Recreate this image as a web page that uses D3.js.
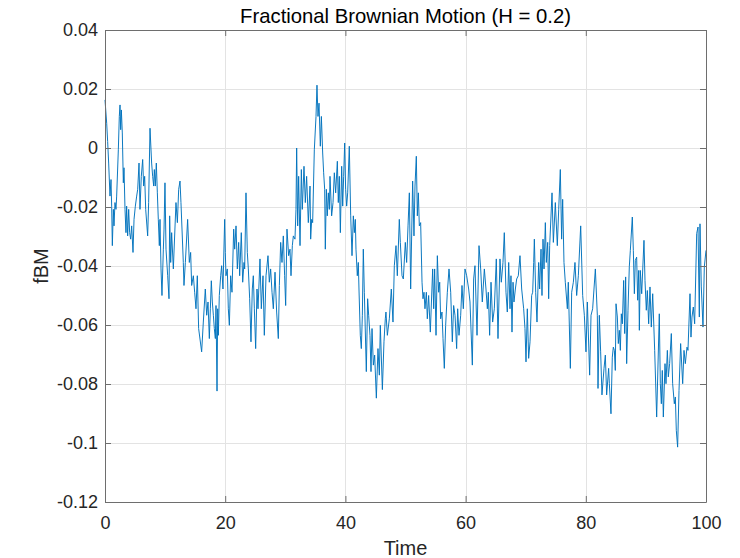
<!DOCTYPE html>
<html><head><meta charset="utf-8">
<script src="https://cdn.jsdelivr.net/npm/d3@7/dist/d3.min.js"></script>
<style>body{margin:0;background:#fff}svg{display:block;font-family:"Liberation Sans",Arial,Helvetica,sans-serif}</style>
</head><body><svg id="chart" width="740" height="558"></svg>
<script>
const time = [0,0.28,0.44,0.61,0.83,1.00,1.11,1.22,1.39,1.50,1.66,1.83,1.94,2.22,2.38,2.50,2.61,2.72,2.88,3.05,3.16,3.33,3.49,3.60,3.77,3.94,4.10,4.27,4.44,4.66,4.83,5.05,5.27,5.44,5.66,5.82,6.04,6.27,6.43,6.60,6.77,7.10,7.26,7.49,7.76,7.93,8.10,8.21,8.37,8.54,8.71,8.87,9.04,9.15,9.32,9.48,9.71,9.82,9.98,10.15,10.43,10.65,10.76,10.93,11.09,11.37,11.81,12.04,12.26,12.48,12.64,13.03,13.14,13.37,13.75,14.03,14.25,14.42,14.70,14.92,15.14,15.36,15.58,16.08,16.36,16.69,16.92,17.14,17.36,
17.53,17.69,17.86,18.03,18.19,18.36,18.47,18.64,18.75,18.86,19.02,19.25,19.41,19.63,19.91,20.02,20.13,20.35,20.52,20.69,20.91,21.13,21.41,21.58,21.80,22.02,22.24,22.41,22.68,22.91,23.13,23.24,23.46,23.68,23.85,24.07,24.29,24.51,24.68,24.85,25.07,25.29,25.46,25.79,26.01,26.29,26.51,26.79,27.12,27.34,27.56,27.79,28.01,28.29,28.56,28.84,29.01,29.23,29.45,29.67,29.89,30.06,30.28,30.56,30.78,30.95,31.17,31.34,31.61,31.78,31.89,32.06,32.22,32.45,32.67,32.83,33.11,33.33,33.55,33.83,34.11,
34.22,34.39,34.55,34.83,35.11,35.27,35.44,35.61,35.83,36.00,36.22,36.38,36.55,36.66,36.83,36.99,37.16,37.33,37.44,37.71,37.94,38.16,38.38,38.66,38.82,38.99,39.16,39.38,39.55,39.71,39.88,40.04,40.21,40.38,40.65,40.88,41.10,41.32,41.49,41.65,41.76,41.98,42.15,42.26,42.48,42.65,42.82,42.98,43.15,43.48,43.70,43.87,44.09,44.26,44.43,44.65,44.87,45.15,45.42,45.65,45.81,46.15,46.42,46.64,46.75,46.98,47.31,47.64,47.92,48.14,48.42,48.64,48.97,49.14,49.42,49.64,49.97,50.19,50.42,50.64,
50.86,51.19,51.41,51.58,51.80,51.97,52.14,52.30,52.52,52.75,52.91,53.08,53.24,53.47,53.63,53.85,54.13,54.52,54.69,54.85,55.08,55.30,55.52,55.69,55.85,56.07,56.24,56.46,56.68,56.96,57.24,57.52,57.79,58.01,58.24,58.51,58.68,58.90,59.18,59.40,59.62,59.90,60.18,60.51,60.73,61.12,61.34,61.56,61.90,62.23,62.51,62.78,63.12,63.39,63.62,63.78,64.00,64.23,64.50,64.78,65.11,65.39,65.72,65.94,66.22,66.44,66.72,66.94,67.17,
67.39,67.55,67.72,67.89,68.05,68.28,68.50,68.77,69.05,69.33,69.66,69.88,70.05,70.27,70.49,70.72,70.99,71.16,71.33,71.44,71.66,71.88,72.16,72.32,72.55,72.71,72.88,73.05,73.27,73.43,73.66,73.82,73.99,74.38,74.60,74.93,75.26,75.49,75.76,75.98,76.15,76.37,76.59,76.93,77.09,77.43,77.65,77.93,78.20,78.48,78.76,79.15,79.48,79.76,80.03,80.26,80.64,80.87,81.14,81.59,81.92,82.03,82.25,82.47,82.69,83.03,83.25,83.47,83.80,
83.92,84.19,84.41,84.58,84.75,84.91,85.03,85.25,85.41,85.58,85.75,85.91,86.08,86.30,86.47,86.63,86.80,87.02,87.24,87.41,87.74,87.91,88.08,88.24,88.46,88.63,88.80,88.91,89.07,89.30,89.68,89.85,90.07,90.24,90.46,90.68,90.90,91.13,91.46,91.79,92.23,92.40,92.57,92.73,92.90,93.18,93.34,93.57,93.73,93.95,94.23,94.45,94.73,94.90,95.06,95.28,95.51,95.78,96.12,96.34,96.56,96.84,97.00,97.34,97.50,97.67,97.89,98.11,98.45,98.67,98.89,99.00,99.22,99.50,99.72,100];

const fbm = [0.0163,0.0084,0.0022,-0.0051,-0.0163,-0.0107,-0.0197,-0.0331,-0.0208,-0.0264,-0.0185,-0.0208,-0.0163,-0.0006,0.0107,0.0146,0.0062,0.0129,0.0051,-0.0118,-0.0067,-0.0208,-0.0287,-0.0197,-0.0298,-0.0208,-0.0287,-0.0309,-0.0264,-0.0354,-0.0242,-0.0197,-0.0163,-0.0140,-0.0051,-0.0208,-0.0096,-0.0039,-0.0129,-0.0096,-0.0208,-0.0298,-0.0185,0.0067,-0.0051,-0.0096,-0.0129,-0.0073,-0.0129,-0.0051,-0.0152,-0.0242,-0.0331,-0.0242,-0.0410,-0.0500,-0.0343,-0.0275,-0.0118,-0.0343,-0.0433,-0.0511,-0.0230,-0.0388,-0.0287,-0.0410,-0.0185,-0.0253,-0.0140,-0.0112,-0.0185,-0.0388,-0.0466,-0.0388,-0.0242,-0.0388,-0.0354,-0.0466,-0.0433,-0.0489,-0.0545,-0.0433,-0.0612,-0.0691,-0.0590,-0.0478,-0.0567,-0.0522,-0.0646,
-0.0545,-0.0450,-0.0522,-0.0567,-0.0612,-0.0646,-0.0534,-0.0824,-0.0545,-0.0635,-0.0500,-0.0433,-0.0399,-0.0478,-0.0242,-0.0354,-0.0433,-0.0410,-0.0545,-0.0601,-0.0433,-0.0489,-0.0275,-0.0343,-0.0264,-0.0410,-0.0320,-0.0433,-0.0287,-0.0455,-0.0388,-0.0410,-0.0152,-0.0354,-0.0410,-0.0511,-0.0657,-0.0478,-0.0433,-0.0545,-0.0680,-0.0478,-0.0545,-0.0376,-0.0545,-0.0433,-0.0635,-0.0433,-0.0365,-0.0455,-0.0410,-0.0489,-0.0545,-0.0421,-0.0556,-0.0646,-0.0466,-0.0320,-0.0388,-0.0298,-0.0433,-0.0534,-0.0275,-0.0365,-0.0343,-0.0433,-0.0331,-0.0298,-0.0309,-0.0208,0.0000,-0.0264,-0.0096,-0.0331,-0.0073,-0.0208,-0.0062,-0.0185,-0.0096,-0.0253,-0.0129,
-0.0309,-0.0242,-0.0253,-0.0006,0.0107,0.0213,0.0107,0.0152,0.0006,0.0107,-0.0017,-0.0084,-0.0140,-0.0343,-0.0140,-0.0230,-0.0152,-0.0208,-0.0096,-0.0230,-0.0185,-0.0084,-0.0152,-0.0045,-0.0185,-0.0096,-0.0287,-0.0062,-0.0197,-0.0096,0.0017,-0.0140,-0.0197,-0.0152,0.0006,-0.0230,-0.0365,-0.0230,-0.0287,-0.0242,-0.0343,-0.0433,-0.0388,-0.0478,-0.0635,-0.0680,-0.0567,-0.0343,-0.0489,-0.0758,-0.0511,-0.0567,-0.0635,-0.0758,-0.0612,-0.0736,-0.0702,-0.0848,-0.0680,-0.0770,-0.0601,-0.0819,-0.0657,-0.0579,-0.0556,-0.0635,-0.0579,-0.0478,-0.0590,-0.0399,-0.0331,-0.0433,-0.0242,-0.0320,-0.0433,-0.0444,-0.0320,-0.0388,-0.0264,-0.0152,
-0.0478,-0.0112,-0.0298,-0.0129,-0.0028,-0.0230,-0.0152,-0.0264,-0.0253,-0.0455,-0.0511,-0.0489,-0.0545,-0.0489,-0.0579,-0.0500,-0.0624,-0.0410,-0.0545,-0.0410,-0.0635,-0.0365,-0.0489,-0.0455,-0.0579,-0.0556,-0.0646,-0.0747,-0.0601,-0.0489,-0.0410,-0.0489,-0.0657,-0.0534,-0.0567,-0.0680,-0.0545,-0.0635,-0.0567,-0.0466,-0.0545,-0.0410,-0.0433,-0.0478,-0.0522,-0.0736,-0.0444,-0.0399,-0.0635,-0.0331,-0.0410,-0.0522,-0.0410,-0.0478,-0.0545,-0.0489,-0.0635,-0.0455,-0.0590,-0.0545,-0.0376,-0.0646,-0.0376,-0.0455,-0.0388,-0.0287,-0.0489,-0.0556,-0.0388,
-0.0545,-0.0433,-0.0624,-0.0455,-0.0522,-0.0478,-0.0444,-0.0433,-0.0365,-0.0478,-0.0545,-0.0612,-0.0725,-0.0545,-0.0713,-0.0657,-0.0500,-0.0489,-0.0388,-0.0309,-0.0489,-0.0590,-0.0388,-0.0478,-0.0343,-0.0500,-0.0309,-0.0410,-0.0253,-0.0388,-0.0320,-0.0511,-0.0331,-0.0152,-0.0320,-0.0185,-0.0331,-0.0208,-0.0073,-0.0309,-0.0174,-0.0388,-0.0455,-0.0545,-0.0455,-0.0747,-0.0489,-0.0455,-0.0388,-0.0500,-0.0433,-0.0264,-0.0500,-0.0567,-0.0691,-0.0522,-0.0770,-0.0567,-0.0545,-0.0410,-0.0567,-0.0815,-0.0567,-0.0691,-0.0837,-0.0747,-0.0702,-0.0837,-0.0747,
-0.0799,-0.0901,-0.0709,-0.0675,-0.0686,-0.0754,-0.0528,-0.0573,-0.0663,-0.0618,-0.0686,-0.0562,-0.0596,-0.0449,-0.0629,-0.0437,-0.0731,-0.0550,-0.0403,-0.0347,-0.0234,-0.0347,-0.0494,-0.0381,-0.0370,-0.0516,-0.0415,-0.0618,-0.0415,-0.0494,-0.0313,-0.0449,-0.0550,-0.0483,-0.0596,-0.0471,-0.0607,-0.0494,-0.0686,-0.0912,-0.0562,-0.0799,-0.0867,-0.0754,-0.0912,-0.0731,-0.0799,-0.0686,-0.0776,-0.0731,-0.0629,-0.0799,-0.0867,-0.0844,-0.0957,-0.1014,-0.0822,-0.0663,-0.0799,-0.0686,-0.0731,-0.0675,-0.0686,-0.0494,-0.0641,-0.0573,-0.0539,-0.0596,-0.0290,-0.0268,-0.0573,-0.0257,-0.0471,-0.0607,-0.0403,-0.0347];

const xTicks = [0, 20, 40, 60, 80, 100];
const xTickLabels = ["0", "20", "40", "60", "80", "100"];
const yTicks = [-0.12, -0.1, -0.08, -0.06, -0.04, -0.02, 0, 0.02, 0.04];
const yTickLabels = ["-0.12", "-0.1", "-0.08", "-0.06", "-0.04", "-0.02", "0", "0.02", "0.04"];
const titleText = "Fractional Brownian Motion (H = 0.2)";
const xLabelText = "Time";
const yLabelText = "fBM";

const W = 740, H = 558;
const m = {left: 105, right: 34, top: 30, bottom: 56};
const iw = W - m.left - m.right, ih = H - m.top - m.bottom;
const svg = d3.select("#chart");
svg.append("rect").attr("width", W).attr("height", H).attr("fill", "#fff");
const g = svg.append("g").attr("transform", `translate(${m.left},${m.top})`);

const x = d3.scaleLinear().domain([0, 100]).range([0, iw]);
const y = d3.scaleLinear().domain([-0.12, 0.04]).range([ih, 0]);

// grid
g.append("g").selectAll("line").data(xTicks.slice(1, -1)).join("line")
  .attr("x1", d => Math.round(x(d)) + 0.5).attr("x2", d => Math.round(x(d)) + 0.5)
  .attr("y1", 0).attr("y2", ih).attr("stroke", "#e3e3e3").attr("stroke-width", 1);
g.append("g").selectAll("line").data(yTicks.slice(1, -1)).join("line")
  .attr("y1", d => Math.round(y(d)) + 0.5).attr("y2", d => Math.round(y(d)) + 0.5)
  .attr("x1", 0).attr("x2", iw).attr("stroke", "#e3e3e3").attr("stroke-width", 1);

// data
const pts = time.map((t, i) => [t, fbm[i]]);
const line = d3.line().x(d => x(d[0])).y(d => y(d[1]));
g.append("path").datum(pts).attr("d", line).attr("fill", "none")
  .attr("stroke", "#0072BD").attr("stroke-width", 0.95).attr("stroke-linejoin", "round");

// axes
const axColor = "#262626";
const lineColor = "#6e6e6e";
const fs = 18;
const xAxis = g.append("g").attr("transform", `translate(0,${ih})`)
  .call(d3.axisBottom(x).tickValues(xTicks).tickFormat((d, i) => xTickLabels[i]).tickSizeInner(-6).tickSizeOuter(0).tickPadding(14));
const xAxisTop = g.append("g")
  .call(d3.axisTop(x).tickValues(xTicks).tickFormat("").tickSizeInner(-6).tickSizeOuter(0));
const yAxis = g.append("g")
  .call(d3.axisLeft(y).tickValues(yTicks).tickFormat((d, i) => yTickLabels[i]).tickSizeInner(-6).tickSizeOuter(0).tickPadding(7));
const yAxisRight = g.append("g").attr("transform", `translate(${iw},0)`)
  .call(d3.axisRight(y).tickValues(yTicks).tickFormat("").tickSizeInner(-6).tickSizeOuter(0));
[xAxis, xAxisTop, yAxis, yAxisRight].forEach(a => {
  a.select(".domain").attr("stroke", lineColor).attr("stroke-width", 1);
  a.selectAll(".tick line").attr("stroke", lineColor).attr("stroke-width", 1);
  a.selectAll(".tick text").attr("fill", axColor).style("font-size", fs + "px").style("font-family", "'Liberation Sans', Arial, sans-serif");
});

svg.append("text").attr("x", m.left + iw / 2).attr("y", 23).attr("text-anchor", "middle")
  .attr("fill", "#000").style("font-size", "20.3px").text(titleText);
svg.append("text").attr("x", m.left + iw / 2).attr("y", 555).attr("text-anchor", "middle")
  .attr("fill", axColor).style("font-size", "20px").text(xLabelText);
svg.append("text").attr("transform", `translate(48,${m.top + ih / 2}) rotate(-90)`).attr("text-anchor", "middle")
  .attr("fill", axColor).style("font-size", "20px").text(yLabelText);
</script></body></html>
